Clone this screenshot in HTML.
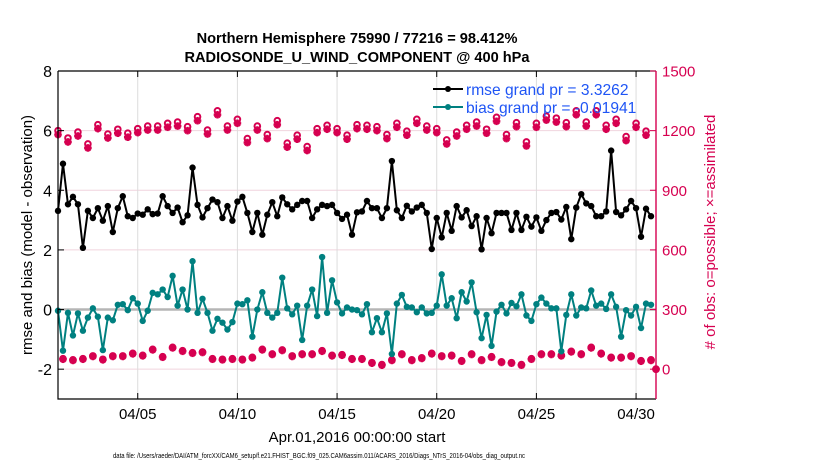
<!DOCTYPE html>
<html><head><meta charset="utf-8"><style>
html,body{margin:0;padding:0;background:#fff;width:830px;height:470px;overflow:hidden}
svg{display:block;font-family:"Liberation Sans",sans-serif}
</style></head><body>
<svg id="chart" width="830" height="470" viewBox="0 0 830 470" xmlns="http://www.w3.org/2000/svg">
<text x="357" y="43" text-anchor="middle" font-size="14.6" font-weight="bold">Northern Hemisphere 75990 / 77216 = 98.412%</text>
<text x="357" y="62" text-anchor="middle" font-size="14.6" font-weight="bold">RADIOSONDE_U_WIND_COMPONENT @ 400 hPa</text>
<g id="grid"></g>
<g id="marks"></g>
<g id="axes"></g>
<g>
<g>
<line x1="433" y1="89" x2="463" y2="89" stroke="#000" stroke-width="2"/><circle cx="448" cy="89" r="3" fill="#000"/>
<text x="466" y="95" font-size="15.6" fill="#1f55f5">rmse grand pr = 3.3262</text></g>
<g>
<line x1="433" y1="107" x2="463" y2="107" stroke="#008080" stroke-width="2"/><circle cx="448" cy="107" r="3" fill="#008080"/>
<text x="466" y="113" font-size="15.6" fill="#1f55f5">bias grand pr = -0.01941</text></g>
</g>
<text transform="translate(32,235) rotate(-90)" text-anchor="middle" font-size="15">rmse and bias (model - observation)</text>
<text transform="translate(715,232) rotate(-90)" text-anchor="middle" font-size="15" fill="#d60050"># of obs: o=possible; ×=assimilated</text>
<text x="357" y="442" text-anchor="middle" font-size="15">Apr.01,2016 00:00:00 start</text>
<text x="113" y="458" font-size="7" textLength="412" lengthAdjust="spacingAndGlyphs">data file: /Users/raeder/DAI/ATM_forcXX/CAM6_setup/f.e21.FHIST_BGC.f09_025.CAM6assim.011/ACARS_2016/Diags_NTrS_2016-04/obs_diag_output.nc</text>
</svg>
<script>
const xTickDays=[4,9,14,19,24,29];
const xTickLabels=["04/05","04/10","04/15","04/20","04/25","04/30"];
const yLeftTicks=[-2,0,2,4,6,8];
const yRightTicks=[0,300,600,900,1200,1500];
const rmse=[3.31,4.89,3.53,3.78,3.53,2.07,3.31,3.07,3.40,2.98,3.47,2.60,3.40,3.80,3.13,3.07,3.22,3.18,3.36,3.20,3.22,3.80,3.47,3.24,3.42,2.93,3.16,4.76,3.51,3.09,3.40,3.69,3.60,3.07,3.47,2.98,3.62,3.78,3.24,2.60,3.24,2.51,3.18,3.60,3.13,3.76,3.53,3.36,3.51,3.64,3.64,3.07,3.36,3.51,3.47,3.51,3.24,3.04,3.18,2.51,
3.26,3.29,3.64,3.40,3.40,3.07,3.40,4.98,3.33,3.07,3.48,3.29,3.42,3.51,3.24,2.03,3.07,2.42,3.24,2.64,3.47,3.09,3.33,2.80,3.13,2.02,3.07,2.56,3.24,3.24,3.24,2.67,3.24,2.67,3.11,2.78,3.09,2.64,3.00,3.24,3.27,3.02,3.44,2.36,3.42,3.87,3.56,3.47,3.13,3.13,3.29,5.33,3.27,3.16,3.36,3.64,3.40,2.44,3.38,3.13];
const bias=[-0.04,-1.38,-0.11,-0.87,-0.13,-0.71,-0.27,0.04,-0.24,-1.36,-0.27,-0.36,0.16,0.18,-0.02,0.38,0.20,-0.38,-0.04,0.56,0.51,0.67,0.42,1.13,0.13,0.67,0.00,1.62,-0.11,0.36,-0.11,-0.71,-0.31,-0.44,-0.67,-0.42,0.20,0.18,0.31,-0.91,0.00,0.58,-0.11,-0.27,-0.11,1.07,0.04,-0.16,0.13,-1.02,0.13,0.67,-0.22,1.76,-0.11,0.98,0.24,-0.13,0.07,0.00,
-0.02,-0.16,0.18,-0.76,-0.29,-0.76,-0.13,-1.49,0.20,0.49,0.09,0.07,-0.09,0.07,-0.13,-0.11,0.13,1.18,0.13,0.38,-0.29,0.58,0.27,0.91,-0.09,-0.96,-0.18,-1.22,-0.07,0.16,-0.13,0.22,0.11,0.51,-0.20,-0.38,0.18,0.40,0.20,0.04,0.04,-1.40,-0.18,0.51,-0.20,0.07,0.04,0.64,0.13,0.20,0.02,0.51,0.09,-0.91,-0.02,-0.20,0.09,-0.62,0.20,0.16];
const possible=[1200,53,1163,47,1193,53,1133,67,1230,50,1183,67,1207,67,1187,80,1210,70,1223,100,1223,63,1237,110,1243,93,1220,83,1270,87,1203,53,1300,50,1223,53,1257,50,1160,60,1223,100,1180,77,1250,97,1137,67,1177,77,1120,77,1210,93,1227,70,1210,73,1177,53,
1230,53,1227,33,1220,23,1180,47,1237,77,1197,47,1257,57,1223,80,1210,67,1153,70,1193,43,1227,77,1243,47,1207,63,1267,37,1180,33,1240,23,1143,53,1237,77,1273,77,1263,70,1240,90,1300,77,1243,110,1300,80,1227,60,1257,60,1170,67,1237,43,1197,47,0];
const assimilated=[1180,50,1143,44,1173,50,1113,64,1210,47,1163,64,1187,64,1167,77,1190,67,1203,97,1203,60,1217,107,1223,90,1200,80,1250,84,1183,50,1280,47,1203,50,1237,47,1140,57,1203,97,1160,74,1230,94,1117,64,1157,74,1100,74,1190,90,1207,67,1190,70,1157,50,
1210,50,1207,30,1200,20,1160,44,1217,74,1177,44,1237,54,1203,77,1190,64,1133,67,1173,40,1207,74,1223,44,1187,60,1247,34,1160,30,1220,20,1123,50,1217,74,1253,74,1243,67,1220,87,1280,74,1223,107,1280,77,1207,57,1237,57,1150,64,1217,40,1177,44,0];

(function(){
const NS='http://www.w3.org/2000/svg';
const X0=58,X1=656,YT=71,YB=399,DAYS=30,YMIN=-3,YMAX=8;
const PINK='#d60050',TEAL='#008080';
function xs(d){return X0+(d/DAYS)*(X1-X0);}
function yl(v){return YB-(v-YMIN)/(YMAX-YMIN)*(YB-YT);}
function yr(c){return yl(c/150-2);}
function mk(tag,attrs,parent){const e=document.createElementNS(NS,tag);for(const k in attrs)e.setAttribute(k,attrs[k]);parent.appendChild(e);return e;}
const grid=document.getElementById('grid'),marks=document.getElementById('marks'),axes=document.getElementById('axes');

yLeftTicks.forEach(v=>{if(v===8)return;const l=mk('line',{x1:X0,x2:X1,y1:yl(v),y2:yl(v),stroke:'#f0d4de','stroke-width':1},grid);

});
xTickDays.forEach(d=>{const l=mk('line',{x1:xs(d),x2:xs(d),y1:YT,y2:YB,stroke:'#dcdcdc','stroke-width':1},grid);

});
const zl=mk('line',{x1:X0,x2:X1,y1:yl(0),y2:yl(0),stroke:'#b5b5b5','stroke-width':2.5},grid);



function star(cx,cy,parent){const g=mk('g',{stroke:PINK,'stroke-width':2.4,'stroke-linecap':'butt'},parent);


const r=3.8;mk('line',{x1:cx-r,x2:cx+r,y1:cy,y2:cy},g);mk('line',{x1:cx,x2:cx,y1:cy-r,y2:cy+r},g);
mk('line',{x1:cx-r*.7,x2:cx+r*.7,y1:cy-r*.7,y2:cy+r*.7},g);mk('line',{x1:cx-r*.7,x2:cx+r*.7,y1:cy+r*.7,y2:cy-r*.7},g);}
possible.forEach((c,i)=>{const d=i*0.25;
const ci=mk('circle',{cx:xs(d),cy:yr(c),r:2.8,fill:'none',stroke:PINK,'stroke-width':2},marks);

});
assimilated.forEach((c,i)=>{star(xs(i*0.25),yr(c),marks);});

function series(arr,color,name){
const pts=arr.map((v,i)=>xs(i*0.25).toFixed(2)+','+yl(v).toFixed(2)).join(' ');
const pl=mk('polyline',{points:pts,fill:'none',stroke:color,'stroke-width':2,'stroke-linejoin':'round'},marks);


arr.forEach((v,i)=>{const c=mk('circle',{cx:xs(i*0.25),cy:yl(v),r:3.2,fill:color},marks);

});}
series(bias,TEAL,'bias');
series(rmse,'#000','rmse');

const ax=mk('path',{d:`M${X0},${YT} L${X0},${YB} L${X1},${YB}`,fill:'none',stroke:'#000','stroke-width':1.2},axes);


const topAxis=mk('line',{x1:X0,x2:X1,y1:YT,y2:YT,stroke:'#000','stroke-width':1.2},axes);


const ra=mk('line',{x1:X1,x2:X1,y1:YT,y2:YB,stroke:PINK,'stroke-width':1.4},axes);


yLeftTicks.forEach(v=>{mk('line',{x1:X0,x2:X0+6,y1:yl(v),y2:yl(v),stroke:'#000'},axes);
const t=mk('text',{x:X0-6,y:yl(v)+6,'text-anchor':'end','font-size':16},axes);t.textContent=v;

});
yRightTicks.forEach(c=>{mk('line',{x1:X1-6,x2:X1,y1:yr(c),y2:yr(c),stroke:PINK},axes);
const t=mk('text',{x:X1+6,y:yr(c)+5.5,'font-size':15,fill:PINK},axes);t.textContent=c;

});
xTickDays.forEach((d,i)=>{mk('line',{x1:xs(d),x2:xs(d),y1:YB,y2:YB-6,stroke:'#000'},axes);
mk('line',{x1:xs(d),x2:xs(d),y1:YT,y2:YT+6,stroke:'#000'},axes);
const t=mk('text',{x:xs(d),y:YB+20,'text-anchor':'middle','font-size':15},axes);t.textContent=xTickLabels[i];

});
})();
</script>
</body></html>
